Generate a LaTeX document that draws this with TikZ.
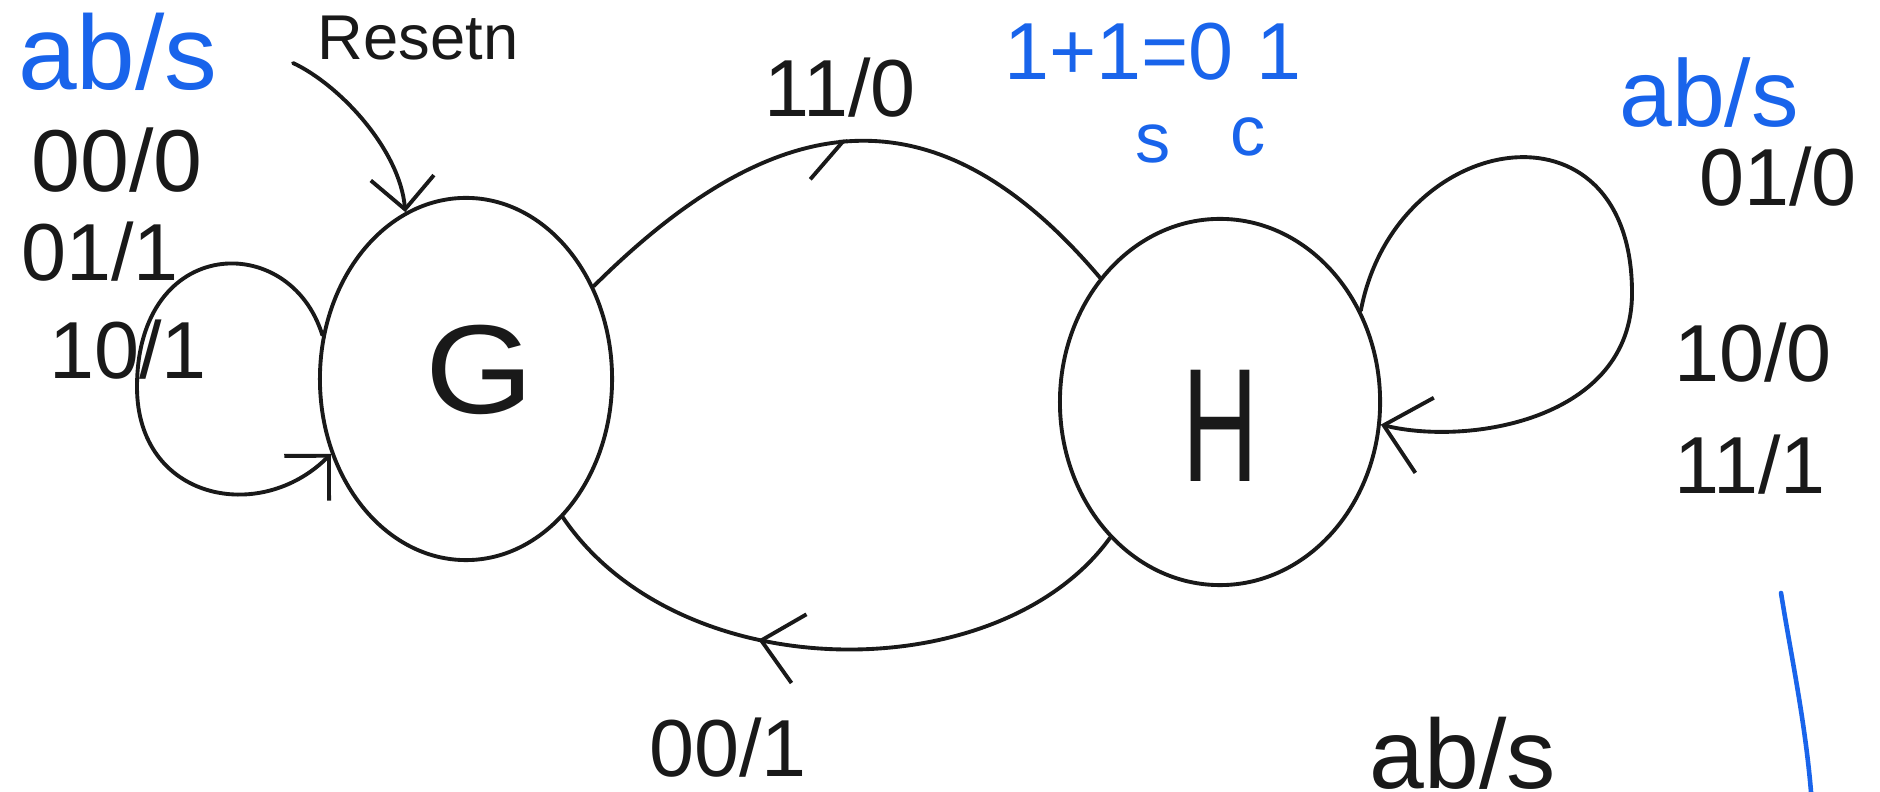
\documentclass[tikz,border=0pt]{standalone}
\usepackage{fontspec}
\setmainfont{Liberation Sans}
\usetikzlibrary{shapes.geometric,arrows.meta,decorations.markings}
\definecolor{inkblue}{RGB}{25,100,235}
\definecolor{ink}{RGB}{25,25,25}
\begin{document}
\begin{tikzpicture}[x=0.01cm,y=-0.01cm,
  stroke/.style={draw=ink,line width=1.1pt,line cap=round},
  statenode/.style={ellipse,draw=ink,line width=1.1pt,inner sep=0pt},
  lbl/.style={font=\fontsize{23}{25}\selectfont,text=ink,inner sep=0pt},
  bluelbl/.style={font=\fontsize{30}{32}\selectfont,text=inkblue,inner sep=0pt},
  barb/.style={-{Straight Barb[length=9pt,width=18pt]}},
  bigbarb/.style={-{Straight Barb[length=12pt,width=22pt]}},
  midbarb/.style={postaction=decorate,decoration={markings,
     mark=at position #1 with {\arrow{Straight Barb[length=11pt,width=20pt]}}}},
  midhalf/.style={postaction=decorate,decoration={markings,
     mark=at position #1 with {\arrow{Straight Barb[length=10pt,width=20pt,right]}}}},
]
\useasboundingbox (0,0) rectangle (1880,792);
\clip (0,0) rectangle (1880,792);
\fill[white] (0,0) rectangle (1880,792);

% states
\node[statenode,minimum width=2.92cm,minimum height=3.62cm,
  label={[font=\fontsize{36}{36}\selectfont,text=ink,xshift=0.14cm,yshift=0.09cm]center:\scalebox{1.1}[1]{G}}]
  (G) at (466,379) {};
\node[statenode,minimum width=3.2cm,minimum height=3.66cm,
  label={[font=\fontsize{46}{46}\selectfont,text=ink,yshift=-0.24cm]center:\scalebox{0.65}[1]{H}}]
  (H) at (1220,402) {};

% labels
\node[bluelbl] (ab1) at (118,52) {ab/s};
\node[lbl,font=\fontsize{18}{20}\selectfont] (reset) at (418,38) {Resetn};
\node[lbl,font=\fontsize{25}{27}\selectfont] (l00) at (117,160) {00/0};
\node[lbl] (l01) at (100,252) {01/1};
\node[lbl] (l10) at (128,350) {10/1};
\node[lbl] (l11) at (840,88) {11/0};
\node[bluelbl,font=\fontsize{23}{25}\selectfont] (sum) at (1153,52) {1+1=0 1};
\node[bluelbl,font=\fontsize{20}{22}\selectfont] (ss) at (1153,144) {s};
\node[bluelbl,font=\fontsize{20}{22}\selectfont] (cc) at (1248,137) {c};
\node[bluelbl,font=\fontsize{27}{29}\selectfont] (ab2) at (1709,93) {ab/s};
\node[lbl] (h01) at (1778,177) {01/0};
\node[lbl] (h10) at (1753,353) {10/0};
\node[lbl] (h11) at (1750,465) {11/1};
\node[lbl,font=\fontsize{28}{30}\selectfont,anchor=base] (ab3) at (1463,788) {ab/s};
\node[lbl,anchor=base] (l001) at (728,776) {00/1};

% reset arrow
\coordinate (rs) at (293,63);
\draw[stroke,barb] (rs) .. controls (340,85) and (400,150) .. (G.110);

% G self loop
\coordinate (gl) at (137,387);
\draw[stroke,barb] (G.163) .. controls (290,230) and (137,235) .. (gl)
  .. controls (137,500) and (260,525) .. (G.209);

% G -> H (11/0)
\draw[stroke,midhalf=0.5] (G.36) .. controls (776,105) and (935,83) .. (H.134);

% H self loop
\coordinate (hr) at (1632,293);
\draw[stroke,bigbarb] (H.33) .. controls (1395,130) and (1632,90) .. (hr)
  .. controls (1632,420) and (1468,446) .. (H.352);

% H -> G (00/1)
\draw[stroke,midbarb=0.62] (H.231) .. controls (1000,690) and (680,690) .. (G.305);

% blue stroke
\coordinate (b1) at (1781,593);
\coordinate (b2) at (1811,792);
\draw[draw=inkblue,line width=1.3pt,line cap=round] (b1) .. controls (1790,650) and (1805,720) .. (b2);
\end{tikzpicture}
\end{document}
